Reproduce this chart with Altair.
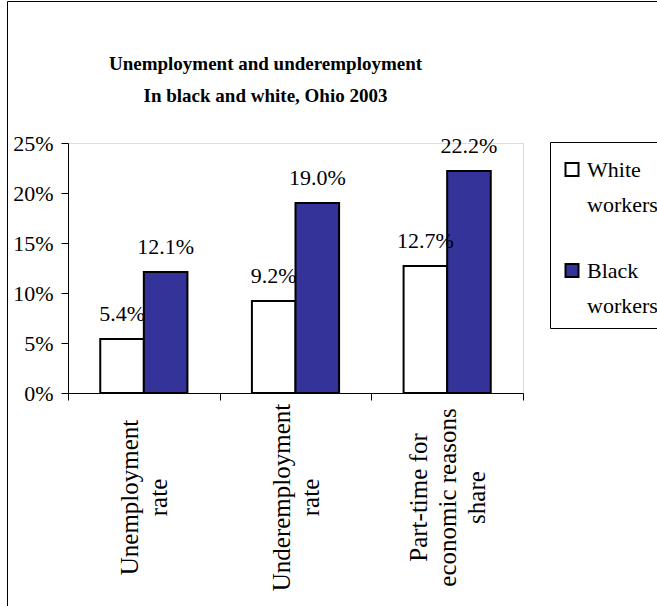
import altair as alt
import pandas as pd

# ---- data ----
categories = ["Unemployment|rate", "Underemployment|rate", "Part-time for|economic reasons|share"]
series = ["White workers", "Black workers"]
white_values = [0.054, 0.092, 0.127]
black_values = [0.121, 0.190, 0.222]
y_ticks = [0.0, 0.05, 0.10, 0.15, 0.20, 0.25]
title_lines = ["Unemployment and underemployment", "In black and white, Ohio 2003"]
colors = ["#FFFFFF", "#333399"]

rows = []
for c, w, b in zip(categories, white_values, black_values):
    rows.append({"category": c, "series": series[0], "value": w})
    rows.append({"category": c, "series": series[1], "value": b})
df = pd.DataFrame(rows)

FONT = "Liberation Serif"
LH = 29  # line height of category labels

x_enc = alt.X(
    "category:N", sort=categories, title=None,
    scale=alt.Scale(paddingInner=0, paddingOuter=0),
    axis=alt.Axis(
        labelAngle=-90, labelAlign="center", labelBaseline="middle",
        labelExpr="split(datum.label, '|')", labelFont=FONT, labelFontSize=25,
        labelLineHeight=LH, labelPadding=97, tickBand="extent", tickSize=7,
        labelOffset={"condition": {"test": "length(split(datum.value, '|')) > 2",
                                   "value": -LH},
                     "value": -LH / 2},
        domainColor="black", tickColor="black", labelColor="black",
        labelLimit=0, labelOverlap=False, labelBound=False,
    ),
)
xoff_enc = alt.XOffset("series:N", sort=series,
                       scale=alt.Scale(paddingInner=0, paddingOuter=0.74))
y_enc = alt.Y(
    "value:Q", title=None,
    scale=alt.Scale(domain=[0, 0.25], nice=False),
    axis=alt.Axis(
        values=y_ticks, format=".0%", grid=False, tickSize=7, labelPadding=8,
        labelFont=FONT, labelFontSize=22, domainColor="black", tickColor="black",
        labelColor="black",
    ),
)

bars = alt.Chart(df).mark_bar(stroke="black", strokeWidth=2, opacity=1).encode(
    x=x_enc,
    xOffset=xoff_enc,
    y=y_enc,
    color=alt.Color(
        "series:N", sort=series,
        scale=alt.Scale(domain=series, range=colors),
        legend=alt.Legend(
            title=" ", titleFontSize=2, titlePadding=11,
            orient="none", legendX=482, legendY=-1, direction="vertical",
            labelExpr="split(datum.label, ' ')", labelFont=FONT, labelFontSize=22,
            labelBaseline="alphabetic", labelColor="black",
            symbolType="M-1,-2.15H1V-0.15H-1Z", symbolSize=169,
            symbolStrokeColor="black", symbolStrokeWidth=2,
            strokeColor="black", fillColor="white", padding=11, rowPadding=44,
            labelOffset=4, labelLimit=0,
        ),
    ),
)

labels = alt.Chart(df).mark_text(
    font=FONT, fontSize=22, baseline="middle", dy=-25, color="black"
).encode(
    x=x_enc,
    xOffset=xoff_enc,
    y=y_enc,
    text=alt.Text("value:Q", format=".1%"),
)

frame_df = pd.DataFrame({"k": [0]})
frame_left = alt.Chart(frame_df).mark_rule(color="black", strokeWidth=1).encode(
    x=alt.value(-60.5), y=alt.value(-141.5), y2=alt.value(463)
)
frame_top = alt.Chart(frame_df).mark_rule(color="black", strokeWidth=1).encode(
    x=alt.value(-60.5), x2=alt.value(589), y=alt.value(-141.5)
)

chart = alt.layer(frame_left, frame_top, bars, labels).properties(
    width=455, height=250,
    autosize=alt.AutoSizeParams(type="none"),
    padding={"left": 68, "top": 143, "right": 134, "bottom": 213},
    title=alt.Title(
        title_lines, font=FONT, fontSize=19, fontWeight="bold", lineHeight=32,
        anchor="middle", frame="group", dx=-30, offset=-105, color="black",
    ),
).configure_view(stroke=None).configure(
    font=FONT, background="white",
    style={"guide-label": {"lineHeight": 35}},
)

chart.save("out.html", embed_options={"renderer": "svg", "actions": False})
